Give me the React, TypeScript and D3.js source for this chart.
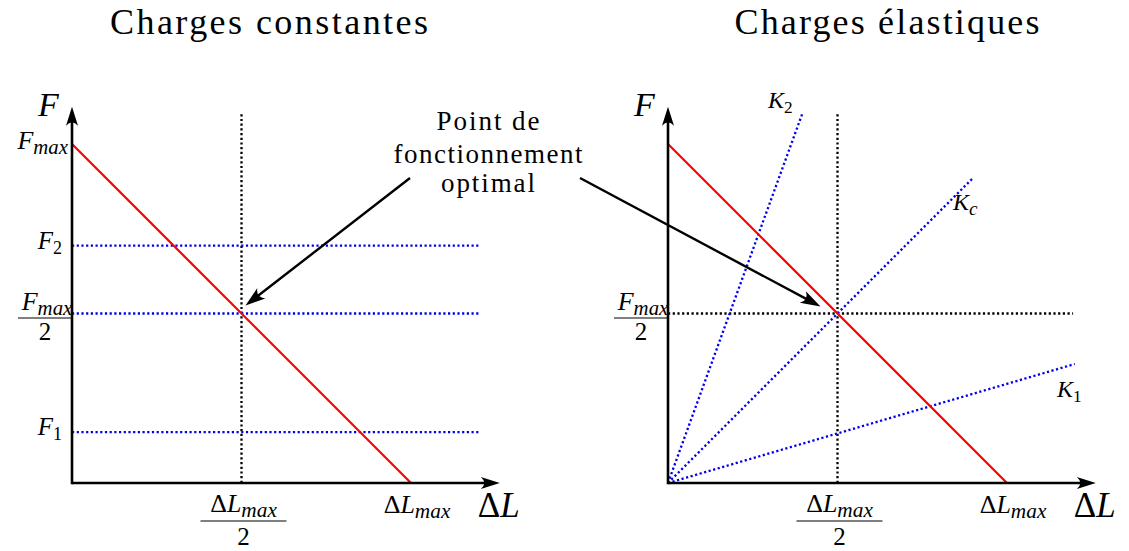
import React from "react";
import * as d3 from "d3";

// ---- data (normalised units: Fmax = 1, ΔLmax = 1) ----
const panelTitles = ["Charges constantes", "Charges élastiques"];
const constantLoads = [
  { name: "F", sub: "2", value: 0.7 },
  { name: "F", sub: "max/2", value: 0.5 },
  { name: "F", sub: "1", value: 0.15 },
];
const elasticLoads = [
  { name: "K", sub: "2", slope: 2.75, xEnd: 0.398 },
  { name: "K", sub: "c", slope: 1.0, xEnd: 0.9 },
  { name: "K", sub: "1", slope: 0.2925, xEnd: 1.2 },
];
const characteristic = [
  [0, 1],
  [1, 0],
]; // F = Fmax (1 - ΔL/ΔLmax)
const optimum = [0.5, 0.5];
const annotationLines = ["Point de", "fonctionnement", "optimal"];

const W = 1129;
const H = 551;
const FONT = "Liberation Serif";

const y = d3.scaleLinear().domain([0, 1]).range([483, 144]);
const xL = d3.scaleLinear().domain([0, 1]).range([72, 411]);
const xR = d3.scaleLinear().domain([0, 1]).range([668, 1007]);

const AX_X = 1.262;
const AX_Y = 1.11;
const VTOP = 1.094;
const DOT = "2.2 2.5";

function Sym({ x, y, name, sub, size, anchor = "start" }: any) {
  const digit = /^[0-9]$/.test(sub || "");
  return (
    <text x={x} y={y} style={{ fontFamily: FONT }} fontSize={size} fontStyle="italic" textAnchor={anchor}>
      {name}
      {sub ? (
        <tspan fontSize={size * (digit ? 0.72 : 0.8)} dy={size * 0.2} fontStyle={digit ? "normal" : "italic"}>
          {sub}
        </tspan>
      ) : null}
    </text>
  );
}

function DL({ x, y, size, anchor = "start", sub = true }: any) {
  return (
    <text x={x} y={y} style={{ fontFamily: FONT }} fontSize={size} textAnchor={anchor}>
      Δ<tspan fontStyle="italic">L</tspan>
      {sub ? (
        <tspan fontStyle="italic" fontSize={size * 0.82} dy={size * 0.2}>
          max
        </tspan>
      ) : null}
    </text>
  );
}

function Panel({ x, elastic }: { x: d3.ScaleLinear<number, number>; elastic: boolean }) {
  const line = d3
    .line<number[]>()
    .x((d) => x(d[0]))
    .y((d) => y(d[1]));
  const x0 = x(0);
  const y0 = y(0);
  const cx = (x(0) - 54 + x(0)) / 2;
  return (
    <g>
      {/* dotted guides */}
      <line x1={x(optimum[0])} x2={x(optimum[0])} y1={y(0)} y2={y(VTOP)} stroke="#000" strokeWidth={2.3} strokeDasharray={DOT} />
      {elastic ? (
        <line x1={x(0)} x2={x(1.195)} y1={y(optimum[1])} y2={y(optimum[1])} stroke="#000" strokeWidth={2.3} strokeDasharray={DOT} />
      ) : null}
      {!elastic
        ? constantLoads.map((c) => (
            <line key={c.sub} x1={x(0)} x2={x(1.2)} y1={y(c.value)} y2={y(c.value)} stroke="#0000ee" strokeWidth={2.3} strokeDasharray={DOT} />
          ))
        : elasticLoads.map((k) => (
            <path
              key={k.sub}
              d={line([
                [0, 0],
                [k.xEnd, k.slope * k.xEnd],
              ]) as string}
              stroke="#0000ee"
              strokeWidth={2.3}
              strokeDasharray={DOT}
              fill="none"
            />
          ))}
      {/* characteristic */}
      <path d={line(characteristic) as string} stroke="#ff0000" strokeWidth={2.2} fill="none" />
      {/* axes */}
      <line x1={x0} x2={x(AX_X) - 8} y1={y0} y2={y0} stroke="#000" strokeWidth={2.6} />
      <line x1={x0} x2={x0} y1={y0 + 1.3} y2={y(AX_Y) + 8} stroke="#000" strokeWidth={2.6} />
      <path d={`M${x(AX_X)},${y0} L${x(AX_X) - 19},${y0 - 6} Q${x(AX_X) - 12},${y0} ${x(AX_X) - 19},${y0 + 6} Z`} fill="#000" />
      <path d={`M${x0},${y(AX_Y)} L${x0 - 6},${y(AX_Y) + 19} Q${x0},${y(AX_Y) + 12} ${x0 + 6},${y(AX_Y) + 19} Z`} fill="#000" />
      {/* axis titles */}
      <Sym x={x0 - 34} y={116} name="F" size={34} />
      <DL x={x(AX_X) - 22} y={517} size={35} sub={false} />
      {/* x tick labels */}
      <DL x={x(1) + 6} y={513} size={26} anchor="middle" />
      <DL x={x(0.5) + 2} y={512} size={26} anchor="middle" />
      <line x1={x(0.5) - 41} x2={x(0.5) + 45} y1={521} y2={521} stroke="#000" strokeWidth={1.2} />
      <text x={x(0.5) + 2} y={545} style={{ fontFamily: FONT }} fontSize={25} textAnchor="middle">
        2
      </text>
      {/* y tick labels */}
      {!elastic ? (
        <>
          <Sym x={x0 - 4} y={149} name="F" sub="max" size={26} anchor="end" />
          {constantLoads
            .filter((c) => c.sub.length === 1)
            .map((c) => (
              <Sym key={c.sub} x={x0 - 10} y={y(c.value) + 3} name={c.name} sub={c.sub} size={25} anchor="end" />
            ))}
        </>
      ) : (
        elasticLoads.map((k, i) => {
          const pos = [
            [768, 108],
            [953, 210],
            [1057, 397],
          ][i];
          return <Sym key={k.sub} x={pos[0]} y={pos[1]} name={k.name} sub={k.sub} size={24} />;
        })
      )}
      <Sym x={cx + 2} y={310} name="F" sub="max" size={26} anchor="middle" />
      <line x1={x0 - 54} x2={x0} y1={318} y2={318} stroke="#000" strokeWidth={1.2} />
      <text x={cx} y={340} style={{ fontFamily: FONT }} fontSize={25} textAnchor="middle">
        2
      </text>
    </g>
  );
}

function Arrow({ x1, y1, x2, y2 }: any) {
  const a = Math.atan2(y2 - y1, x2 - x1);
  const L = 20;
  const Wd = 6.5;
  const bx = x2 - L * Math.cos(a);
  const by = y2 - L * Math.sin(a);
  const mx = x2 - 13 * Math.cos(a);
  const my = y2 - 13 * Math.sin(a);
  const px = -Math.sin(a);
  const py = Math.cos(a);
  return (
    <g>
      <line x1={x1} y1={y1} x2={mx} y2={my} stroke="#000" strokeWidth={2.4} />
      <path d={`M${x2},${y2} L${bx + px * Wd},${by + py * Wd} Q${mx},${my} ${bx - px * Wd},${by - py * Wd} Z`} fill="#000" />
    </g>
  );
}

export default function App() {
  return (
    <div style={{ position: "fixed", left: 0, top: 0 }}>
      <svg width={W} height={H} viewBox={`0 0 ${W} ${H}`} style={{ display: "block", background: "#fff" }}>
        <text x={269} y={34} style={{ fontFamily: FONT }} fontSize={36} textAnchor="middle" textLength={318} lengthAdjust="spacing">
          {panelTitles[0]}
        </text>
        <text x={887} y={34} style={{ fontFamily: FONT }} fontSize={36} textAnchor="middle" textLength={305} lengthAdjust="spacing">
          {panelTitles[1]}
        </text>
        <Panel x={xL} elastic={false} />
        <Panel x={xR} elastic={true} />
        {annotationLines.map((t, i) => (
          <text
            key={t}
            x={488}
            y={[130, 163, 192][i]}
            style={{ fontFamily: FONT }}
            fontSize={27}
            textAnchor="middle"
            textLength={[103, 189, 94][i]}
            lengthAdjust="spacing"
          >
            {t}
          </text>
        ))}
        <Arrow x1={410} y1={178} x2={xL(optimum[0]) + 4} y2={y(optimum[1]) - 8} />
        <Arrow x1={580} y1={178} x2={xR(optimum[0]) - 17} y2={y(optimum[1]) - 7} />
      </svg>
    </div>
  );
}
